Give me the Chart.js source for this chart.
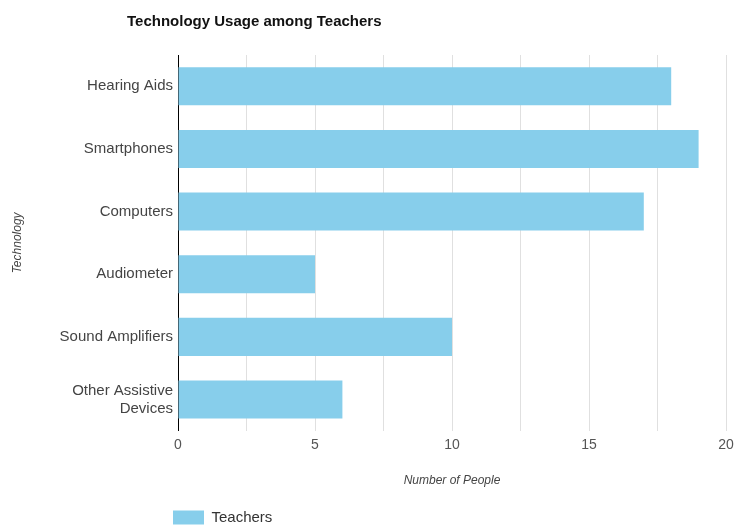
<!DOCTYPE html>
<html>
<head>
<meta charset="utf-8">
<script src="https://cdn.jsdelivr.net/npm/chart.js@4.4.1/dist/chart.umd.min.js"></script>
<style>
    html, body { margin: 0; padding: 0; background: #fff; }
    #wrap { width: 735px; height: 525px; }
</style>
</head>
<body>
<div id="wrap"><canvas id="techChart"></canvas></div>
<script>
// Données du graphique
const technologies = ['Hearing Aids', 'Smartphones', 'Computers', 'Audiometer', 'Sound Amplifiers', ['Other Assistive', 'Devices']];
const teachers = [18, 19, 17, 5, 10, 6];
const xMin = 0;
const xMax = 20;

// Décaler le titre et la légende (alignés à gauche du graphique)
const shiftBlocks = {
    id: 'shiftBlocks',
    beforeDraw(chart) {
        if (chart.titleBlock) {
            chart.titleBlock.left = 127;
        }
        if (chart.legend) {
            chart.legend.left = chart.chartArea.left - 7;
        }
    }
};

const ctx = document.getElementById('techChart').getContext('2d');
const techChart = new Chart(ctx, {
    type: 'bar',
    data: {
        labels: technologies,
        datasets: [{
            label: 'Teachers',
            data: teachers,
            backgroundColor: '#87CEEB',
            borderWidth: 0,
            categoryPercentage: 0.8,
            barPercentage: 0.76
        }]
    },
    options: {
        indexAxis: 'y',
        responsive: true,
        maintainAspectRatio: false,
        animation: false,
        layout: {
            padding: { top: 0, right: 0, bottom: -10, left: 0 }
        },
        plugins: {
            title: {
                display: true,
                text: 'Technology Usage among Teachers',
                align: 'start',
                color: '#111',
                font: { family: 'Liberation Sans', size: 15, weight: 'bold' },
                padding: { top: 13, bottom: 24 }
            },
            legend: {
                position: 'bottom',
                align: 'start',
                labels: {
                    boxWidth: 31,
                    boxHeight: 14,
                    color: '#333',
                    font: { family: 'Liberation Sans', size: 15 },
                    padding: 2
                }
            },
            tooltip: { enabled: false }
        },
        scales: {
            x: {
                min: xMin,
                max: xMax,
                ticks: {
                    stepSize: 2.5,
                    color: '#555',
                    padding: 6,
                    font: { family: 'Liberation Sans', size: 14 },
                    callback: function (value) {
                        return value % 5 === 0 ? value : '';
                    }
                },
                grid: { color: '#e0e0e0', drawTicks: false },
                border: { display: false },
                title: {
                    display: true,
                    text: 'Number of People',
                    color: '#444',
                    font: { family: 'Liberation Sans', size: 12, style: 'italic' },
                    padding: { top: 14, bottom: 20 }
                },
                afterFit: function (scale) {
                    scale.paddingRight = 9;
                }
            },
            y: {
                ticks: {
                    color: '#444',
                    font: { family: 'Liberation Sans', size: 15 },
                    padding: 5
                },
                grid: { display: false, drawTicks: false },
                border: { display: true, color: '#000', width: 1 },
                title: {
                    display: true,
                    text: 'Technology',
                    color: '#444',
                    font: { family: 'Liberation Sans', size: 12, style: 'italic' },
                    padding: { top: 10, bottom: 18 }
                },
                afterFit: function (scale) {
                    scale.width = 178;
                }
            }
        }
    },
    plugins: [shiftBlocks]
});
</script>
</body>
</html>
